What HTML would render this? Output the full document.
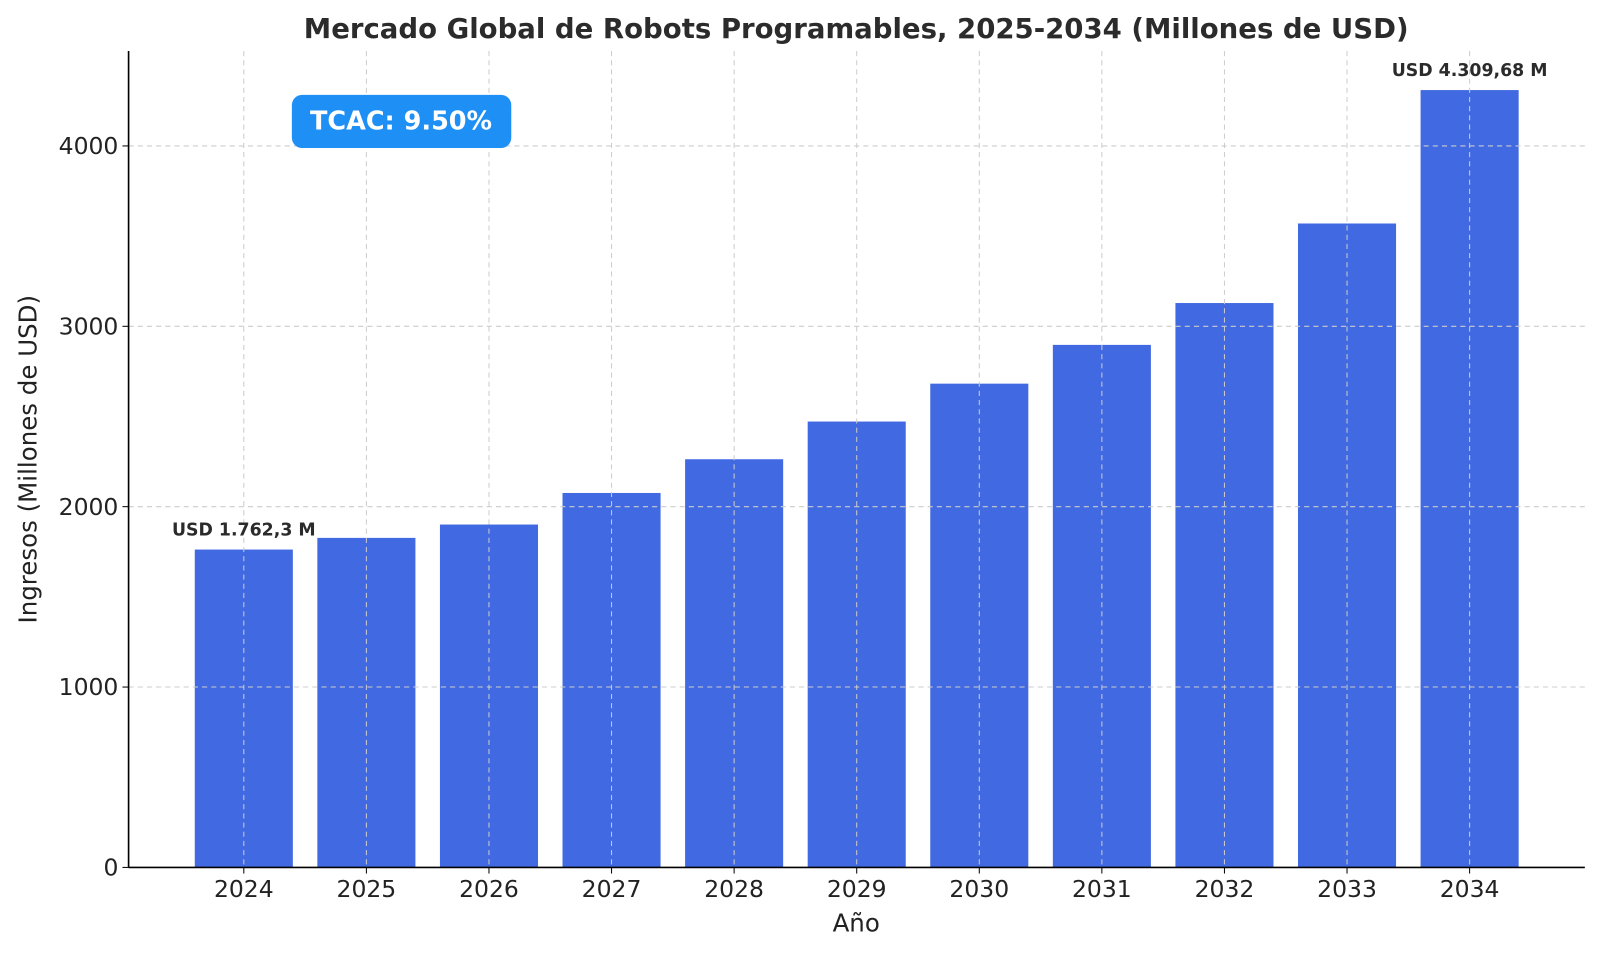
<!DOCTYPE html>
<html><head><meta charset="utf-8"><style>
body{margin:0;background:#fff;}
svg text{font-family:"DejaVu Sans","Liberation Sans",sans-serif;}
</style></head><body>
<svg id="chart" width="1600" height="954" xmlns="http://www.w3.org/2000/svg">
<rect width="1600" height="954" fill="#fff"/>
<g transform="scale(1.0205)">
<text x="839" y="37" text-anchor="middle" font-size="27" font-weight="bold" fill="#2b2b2b">Mercado Global de Robots Programables, 2025-2034 (Millones de USD)</text>
<g id="bars"></g>
<g id="grid"></g>
<g id="axes"></g>
<g>
<rect x="286" y="93" width="215" height="52" rx="10" fill="#1e8ff4"/>
<text x="393" y="127" text-anchor="middle" font-size="25" font-weight="bold" fill="#fff">TCAC: 9.50%</text>
</g>
<text x="839" y="913" text-anchor="middle" font-size="24" fill="#222">Año</text>
<text transform="translate(36,450) rotate(-90)" text-anchor="middle" font-size="24" fill="#222">Ingresos (Millones de USD)</text>
</g>
</svg>
<script>
const categories=["2024","2025","2026","2027","2028","2029","2030","2031","2032","2033","2034"];
const values=[1762.3,1827,1901,2076,2263,2472,2682,2897,3129,3570,4309.68];
const yTicks=[0,1000,2000,3000,4000];
const labels={0:"USD 1.762,3 M",10:"USD 4.309,68 M"};
const NS="http://www.w3.org/2000/svg";
const L=126,R=1553,T=50,B=850;
const x=i=>L+(i+0.94)/11.88*(R-L);
const y=v=>B-v*(B-143)/4000;
const bw=0.8/11.88*(R-L);
function mk(tag,attrs,parent,txt){const e=document.createElementNS(NS,tag);for(const k in attrs)e.setAttribute(k,attrs[k]);if(txt!=null)e.textContent=txt;document.getElementById(parent).appendChild(e);return e;}
categories.forEach((c,i)=>{
  const r=mk("rect",{x:x(i)-bw/2,y:y(values[i]),width:bw,height:B-y(values[i]),fill:"#4169e1"},"bars");
  
  
  const g=mk("line",{x1:x(i),x2:x(i),y1:T,y2:B,stroke:"#ccc","stroke-dasharray":"5,4","stroke-width":1},"grid");
  
  
  const t=mk("text",{x:x(i),y:B+29,"text-anchor":"middle","font-size":23,fill:"#222"},"axes",c);
  
  
  mk("line",{x1:x(i),x2:x(i),y1:B,y2:B+6,stroke:"#000"},"axes");
  if(labels[i]){
    const l=mk("text",{x:x(i),y:y(values[i])-14,"text-anchor":"middle","font-size":17,"font-weight":"bold",fill:"#2b2b2b"},"axes",labels[i]);
    
    
  }
});
yTicks.forEach(v=>{
  if(v>0){const g=mk("line",{x1:L,x2:R,y1:y(v),y2:y(v),stroke:"#ccc","stroke-dasharray":"5,4","stroke-width":1},"grid");
  
  }
  mk("line",{x1:L-6,x2:L,y1:y(v),y2:y(v),stroke:"#000"},"axes");
  const t=mk("text",{x:L-10,y:y(v)+8,"text-anchor":"end","font-size":23,fill:"#222"},"axes",v);
  
  
});
const ya=mk("line",{x1:L,x2:L,y1:T,y2:B,stroke:"#000","stroke-width":1.6},"axes");


const xa=mk("line",{x1:L,x2:R,y1:B,y2:B,stroke:"#000","stroke-width":1.6},"axes");


</script>
</body></html>
